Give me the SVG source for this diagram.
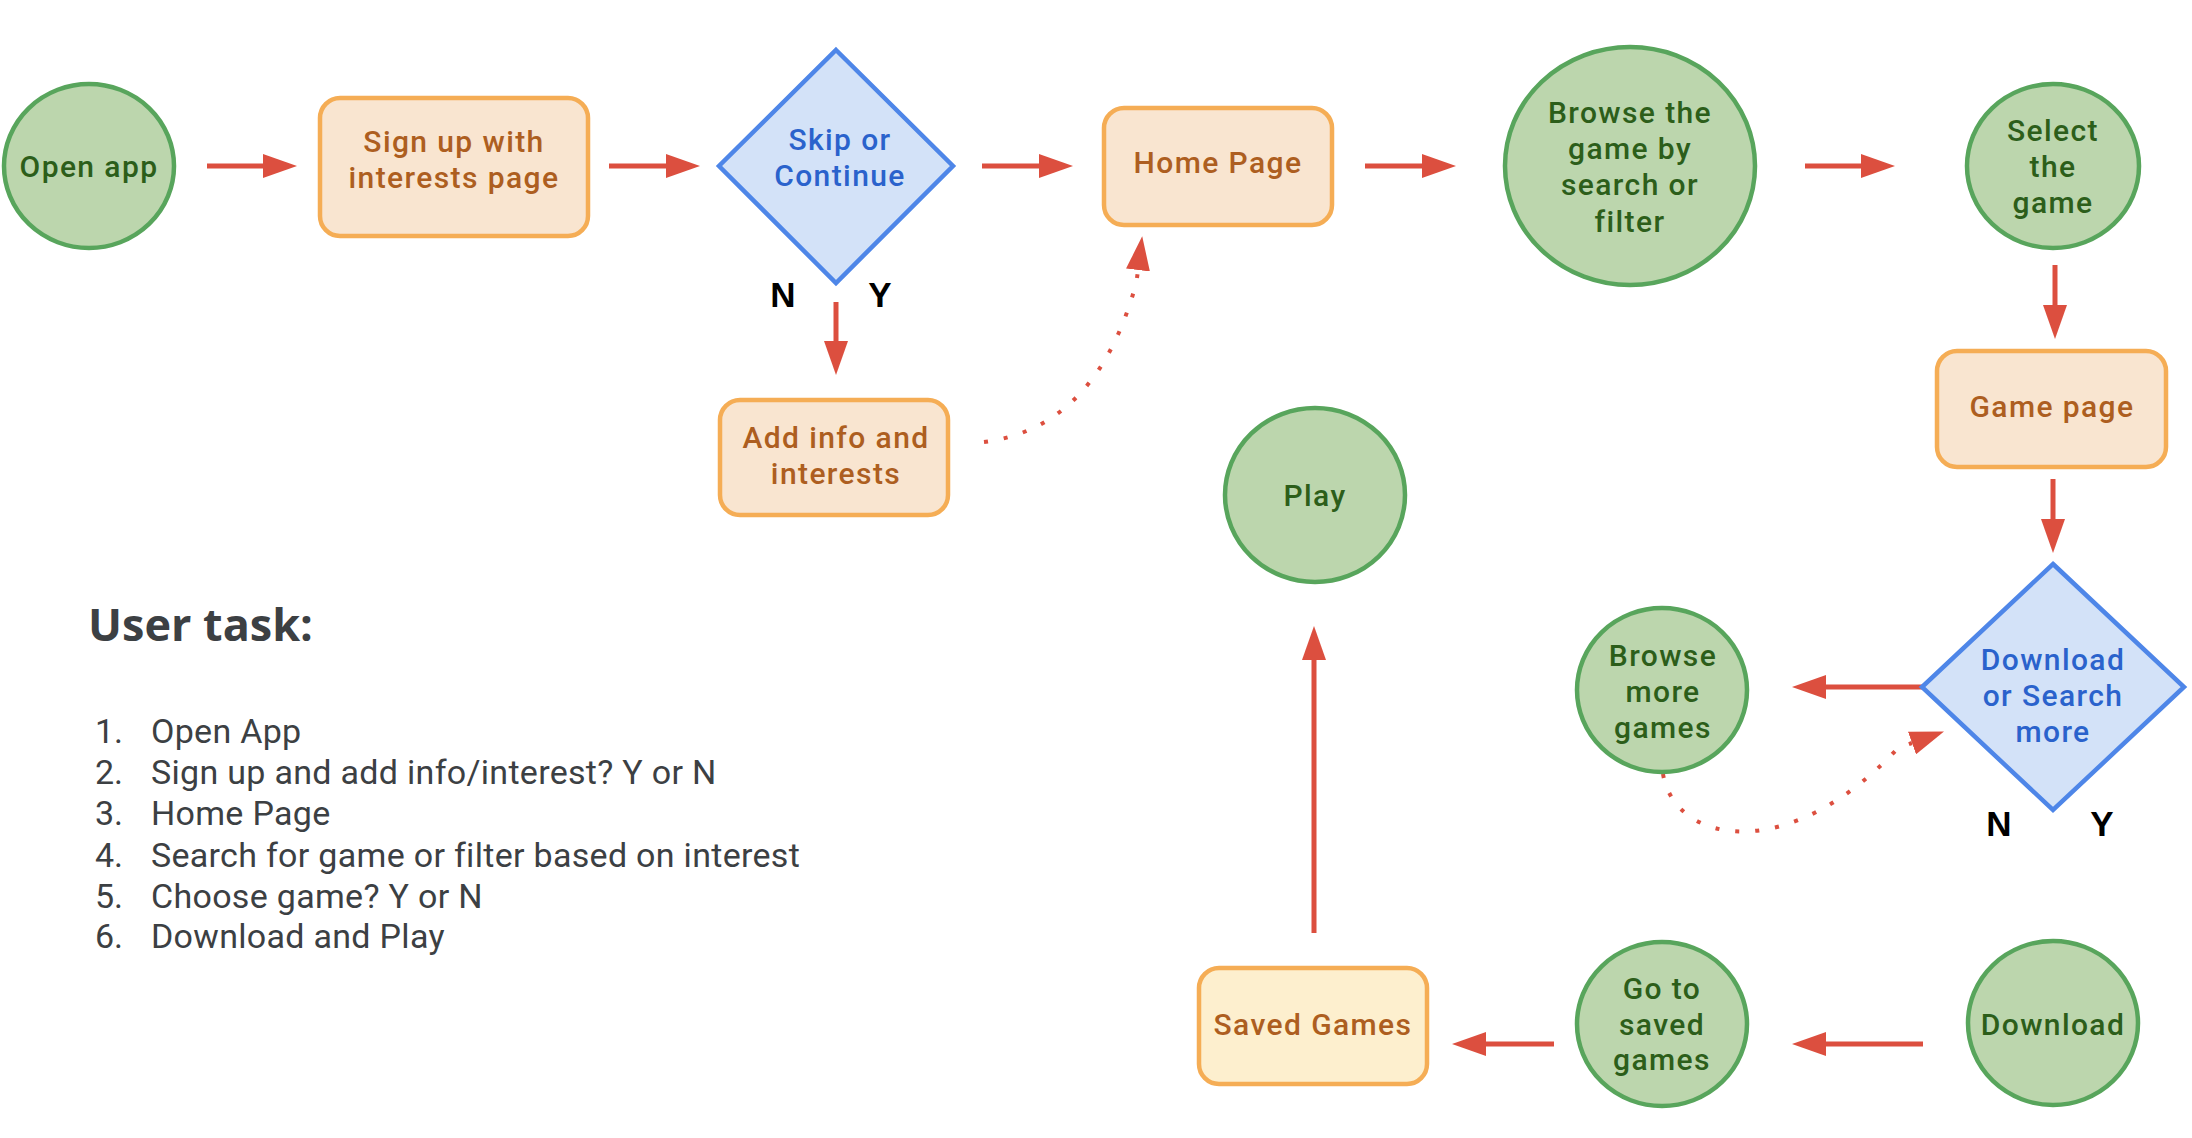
<svg xmlns="http://www.w3.org/2000/svg" width="2192" height="1138" viewBox="0 0 2192 1138">
<defs>
<marker id="ah" markerUnits="userSpaceOnUse" viewBox="0 0 34 24" refX="0" refY="12" markerWidth="34" markerHeight="24" orient="auto">
<path d="M0,0 L34,12 L0,24 Z" fill="#dc4f3f"/>
</marker>
</defs>
<style>
.ell{fill:#bcd6ad;stroke:#58a55c;stroke-width:4.5}
.box{fill:#f9e5d0;stroke:#f5ad55;stroke-width:4.5}
.box2{fill:#fdefce;stroke:#f5ad55;stroke-width:4.5}
.dia{fill:#d3e2f8;stroke:#4e86e8;stroke-width:4.5;stroke-linejoin:miter}
text{font-family:Roboto,"Liberation Sans",sans-serif;font-weight:500;font-size:30px;letter-spacing:1.4px;text-anchor:middle}
.tg{fill:#2c5e1a}
.to{fill:#ad5e20}
.tb{fill:#2a62cc}
.yn{font-family:"Liberation Sans",Arial,sans-serif;font-weight:700;font-size:35px;letter-spacing:0;fill:#000}
.ar{fill:none;stroke:#dc4f3f;stroke-width:5;marker-end:url(#ah)}
.dot{fill:none;stroke:#dc4f3f;stroke-width:4;stroke-dasharray:4 16;marker-end:url(#ah)}
.h{font-family:"Open Sans","Liberation Sans",sans-serif;font-weight:700;font-size:45px;letter-spacing:0;fill:#3c4043;text-anchor:start}
.li{font-family:Roboto,"Liberation Sans",sans-serif;font-weight:400;font-size:34px;letter-spacing:0.3px;fill:#3c4043;text-anchor:start}
.num{font-family:Roboto,"Liberation Sans",sans-serif;font-weight:400;font-size:34px;letter-spacing:0;fill:#3c4043;text-anchor:end}
</style>
<rect width="2192" height="1138" fill="#ffffff"/>

<g id="connectors">
<path class="ar" d="M207,166 H263"/>
<path class="ar" d="M609,166 H666"/>
<path class="ar" d="M982,166 H1039"/>
<path class="ar" d="M1365,166 H1422"/>
<path class="ar" d="M1805,166 H1861"/>
<path class="ar" d="M2055,265 V305"/>
<path class="ar" d="M2053,479 V519"/>
<path class="ar" d="M836,302 V341"/>
<path class="dot" d="M984,442 Q1097,428 1136.5,282 L1138,270"/>
<path class="ar" d="M1922,687 H1826"/>
<path class="dot" d="M1663,774 C1675,845 1790,865 1898,748 L1912,743"/>
<path class="ar" d="M1923,1044 H1826"/>
<path class="ar" d="M1554,1044 H1486"/>
<path class="ar" d="M1314,933 V660"/>
</g>

<g id="open-app">
<ellipse class="ell" cx="89" cy="166" rx="85" ry="82"/>
<text class="tg" x="89" y="177">Open app</text>
</g>
<g id="sign-up">
<rect class="box" x="320" y="98" width="268" height="138" rx="20"/>
<text class="to" x="454" y="152">Sign up with</text>
<text class="to" x="454" y="188">interests page</text>
</g>
<g id="skip-or-continue">
<polygon class="dia" points="836,50 953,166 836,283 719,166"/>
<text class="tb" x="840" y="150">Skip or</text>
<text class="tb" x="840" y="186">Continue</text>
</g>
<g id="skip-labels">
<text class="yn" x="783" y="307">N</text>
<text class="yn" x="880" y="307">Y</text>
</g>
<g id="add-info">
<rect class="box" x="720" y="400" width="228" height="115" rx="20"/>
<text class="to" x="836" y="448">Add info and</text>
<text class="to" x="836" y="484">interests</text>
</g>
<g id="home-page">
<rect class="box" x="1104" y="108" width="228" height="117" rx="20"/>
<text class="to" x="1218" y="173">Home Page</text>
</g>
<g id="browse-game">
<ellipse class="ell" cx="1630" cy="166" rx="125" ry="119"/>
<text class="tg" x="1630" y="123">Browse the</text>
<text class="tg" x="1630" y="159">game by</text>
<text class="tg" x="1630" y="195">search or</text>
<text class="tg" x="1630" y="232">filter</text>
</g>
<g id="select-game">
<ellipse class="ell" cx="2053" cy="166" rx="86" ry="82"/>
<text class="tg" x="2053" y="141">Select</text>
<text class="tg" x="2053" y="177">the</text>
<text class="tg" x="2053" y="213">game</text>
</g>
<g id="game-page">
<rect class="box" x="1937" y="351" width="229" height="116" rx="20"/>
<text class="to" x="2052" y="417">Game page</text>
</g>
<g id="download-or-search">
<polygon class="dia" points="2053,564 2184,687 2053,810 1922,687"/>
<text class="tb" x="2053" y="670">Download</text>
<text class="tb" x="2053" y="706">or Search</text>
<text class="tb" x="2053" y="742">more</text>
</g>
<g id="download-labels">
<text class="yn" x="1999" y="836">N</text>
<text class="yn" x="2102" y="836">Y</text>
</g>
<g id="browse-more">
<ellipse class="ell" cx="1662" cy="690" rx="85" ry="82"/>
<text class="tg" x="1663" y="666">Browse</text>
<text class="tg" x="1663" y="702">more</text>
<text class="tg" x="1663" y="738">games</text>
</g>
<g id="download">
<ellipse class="ell" cx="2053" cy="1023" rx="85" ry="82"/>
<text class="tg" x="2053" y="1035">Download</text>
</g>
<g id="go-to-saved">
<ellipse class="ell" cx="1662" cy="1024" rx="85" ry="82"/>
<text class="tg" x="1662" y="999">Go to</text>
<text class="tg" x="1662" y="1035">saved</text>
<text class="tg" x="1662" y="1070">games</text>
</g>
<g id="saved-games">
<rect class="box2" x="1199" y="968" width="228" height="116" rx="20"/>
<text class="to" x="1313" y="1035">Saved Games</text>
</g>
<g id="play">
<ellipse class="ell" cx="1315" cy="495" rx="90" ry="87"/>
<text class="tg" x="1315" y="506">Play</text>
</g>

<g id="user-task">
<text class="h" x="88" y="641">User task:</text>
<text class="num" x="123" y="743">1.</text><text class="li" x="151" y="743">Open App</text>
<text class="num" x="123" y="784">2.</text><text class="li" x="151" y="784">Sign up and add info/interest? Y or N</text>
<text class="num" x="123" y="825">3.</text><text class="li" x="151" y="825">Home Page</text>
<text class="num" x="123" y="867">4.</text><text class="li" x="151" y="867">Search for game or filter based on interest</text>
<text class="num" x="123" y="908">5.</text><text class="li" x="151" y="908">Choose game? Y or N</text>
<text class="num" x="123" y="948">6.</text><text class="li" x="151" y="948">Download and Play</text>
</g>
</svg>
